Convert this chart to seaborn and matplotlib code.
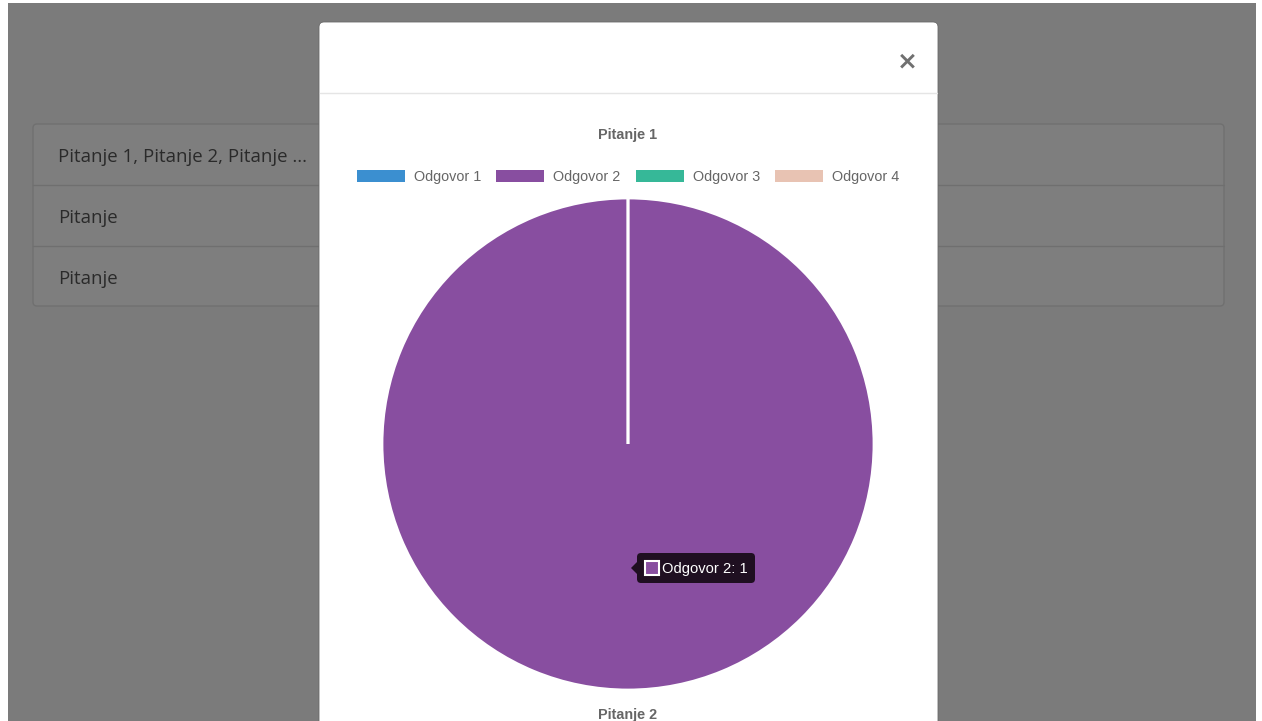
import matplotlib
matplotlib.use("Agg")
import matplotlib.pyplot as plt
import seaborn as sns
from matplotlib.patches import Rectangle, FancyBboxPatch, Polygon

# ---- data ----
chart_title = "Pitanje 1"
next_title = "Pitanje 2"
answers = ["Odgovor 1", "Odgovor 2", "Odgovor 3", "Odgovor 4"]
counts = [0, 1, 0, 0]
colors = ["#3b8fd0", "#884ea0", "#36b898", "#e8c3b3"]
list_items = ["Pitanje 1, Pitanje 2, Pitanje ...", "Pitanje", "Pitanje"]
hover_index = 1

sns.set_theme(style="white")
plt.rcParams["font.family"] = ["Liberation Sans", "DejaVu Sans"]

W, H = 1262, 721
fig = plt.figure(figsize=(W / 100, H / 100), dpi=100)
fig.patch.set_facecolor("white")

# background page (pixel coordinates)
bg = fig.add_axes([0, 0, 1, 1])
bg.set_xlim(0, W)
bg.set_ylim(H, 0)
bg.axis("off")
bg.add_patch(Rectangle((8, 3), 1248, 730, facecolor="#7b7b7b", edgecolor="none", zorder=0))

# dimmed list panel
bg.add_patch(FancyBboxPatch((33, 124), 1191, 182, boxstyle="round,pad=0,rounding_size=4",
                            facecolor="#7e7e7e", edgecolor="#707070", lw=1, zorder=1))
for yline in (184.5, 245.5):
    bg.plot([33, 1224], [yline, yline], color="#6f6f6f", lw=1, zorder=2)
for i, txt in enumerate(list_items):
    bg.text(58, 157 + i * 61, txt, fontsize=13.4, color="#2a2a2a",
            family=["Open Sans", "DejaVu Sans"], va="center", ha="left", zorder=2)

# modal
bg.add_patch(FancyBboxPatch((319, 22), 619, 760, boxstyle="round,pad=0,rounding_size=5",
                            facecolor="white", edgecolor="#6a6a6a", lw=0.6, zorder=5))
bg.plot([320, 937], [93, 93], color="#e5e5e5", lw=1, zorder=6)
bg.text(907, 61, "\u00d7", fontsize=18, color="#707070", ha="center", va="center",
        fontweight="bold", family=["DejaVu Sans"], zorder=6)

# titles
bg.text(628, 134.5, chart_title, fontsize=10.4, fontweight="bold", color="#666666",
        ha="center", va="center", zorder=6)
bg.text(628, 715, next_title, fontsize=10.4, fontweight="bold", color="#666666",
        ha="center", va="center", zorder=6)

# legend
for i, (lab, col) in enumerate(zip(answers, colors)):
    x0 = 357 + i * 139.4
    bg.add_patch(Rectangle((x0, 169.5), 48, 12, facecolor=col, edgecolor="none", zorder=6))
    bg.text(x0 + 57, 176.5, lab, fontsize=10.4, color="#666666", ha="left", va="center",
            zorder=6)

# pie
pax = fig.add_axes([382 / W, (H - 690) / H, 492 / W, 492 / H], zorder=2)
pax.pie(counts, colors=colors, startangle=90, counterclock=False, radius=1,
        wedgeprops=dict(edgecolor="white", linewidth=2))
pax.set_xlim(-1.0, 1.0)
pax.set_ylim(-1.0, 1.0)
pax.set_aspect("equal")
pax.axis("off")

# tooltip overlay
ov = fig.add_axes([0, 0, 1, 1], zorder=3)
ov.set_xlim(0, W)
ov.set_ylim(H, 0)
ov.axis("off")
ov.patch.set_alpha(0)
ov.add_patch(FancyBboxPatch((637, 553), 118, 30, boxstyle="round,pad=0,rounding_size=4",
                            facecolor="#1f0f21", edgecolor="none"))
ov.add_patch(Polygon([(637, 562), (631, 568), (637, 574)], closed=True,
                     facecolor="#1f0f21", edgecolor="none"))
ov.add_patch(Rectangle((645, 560.5), 14, 14, facecolor=colors[hover_index],
                       edgecolor="white", lw=1.5))
ov.text(662, 568.5, f"{answers[hover_index]}: {counts[hover_index]}", fontsize=10.6,
        color="white", ha="left", va="center")

fig.savefig("out.png", dpi=100, facecolor="white")
